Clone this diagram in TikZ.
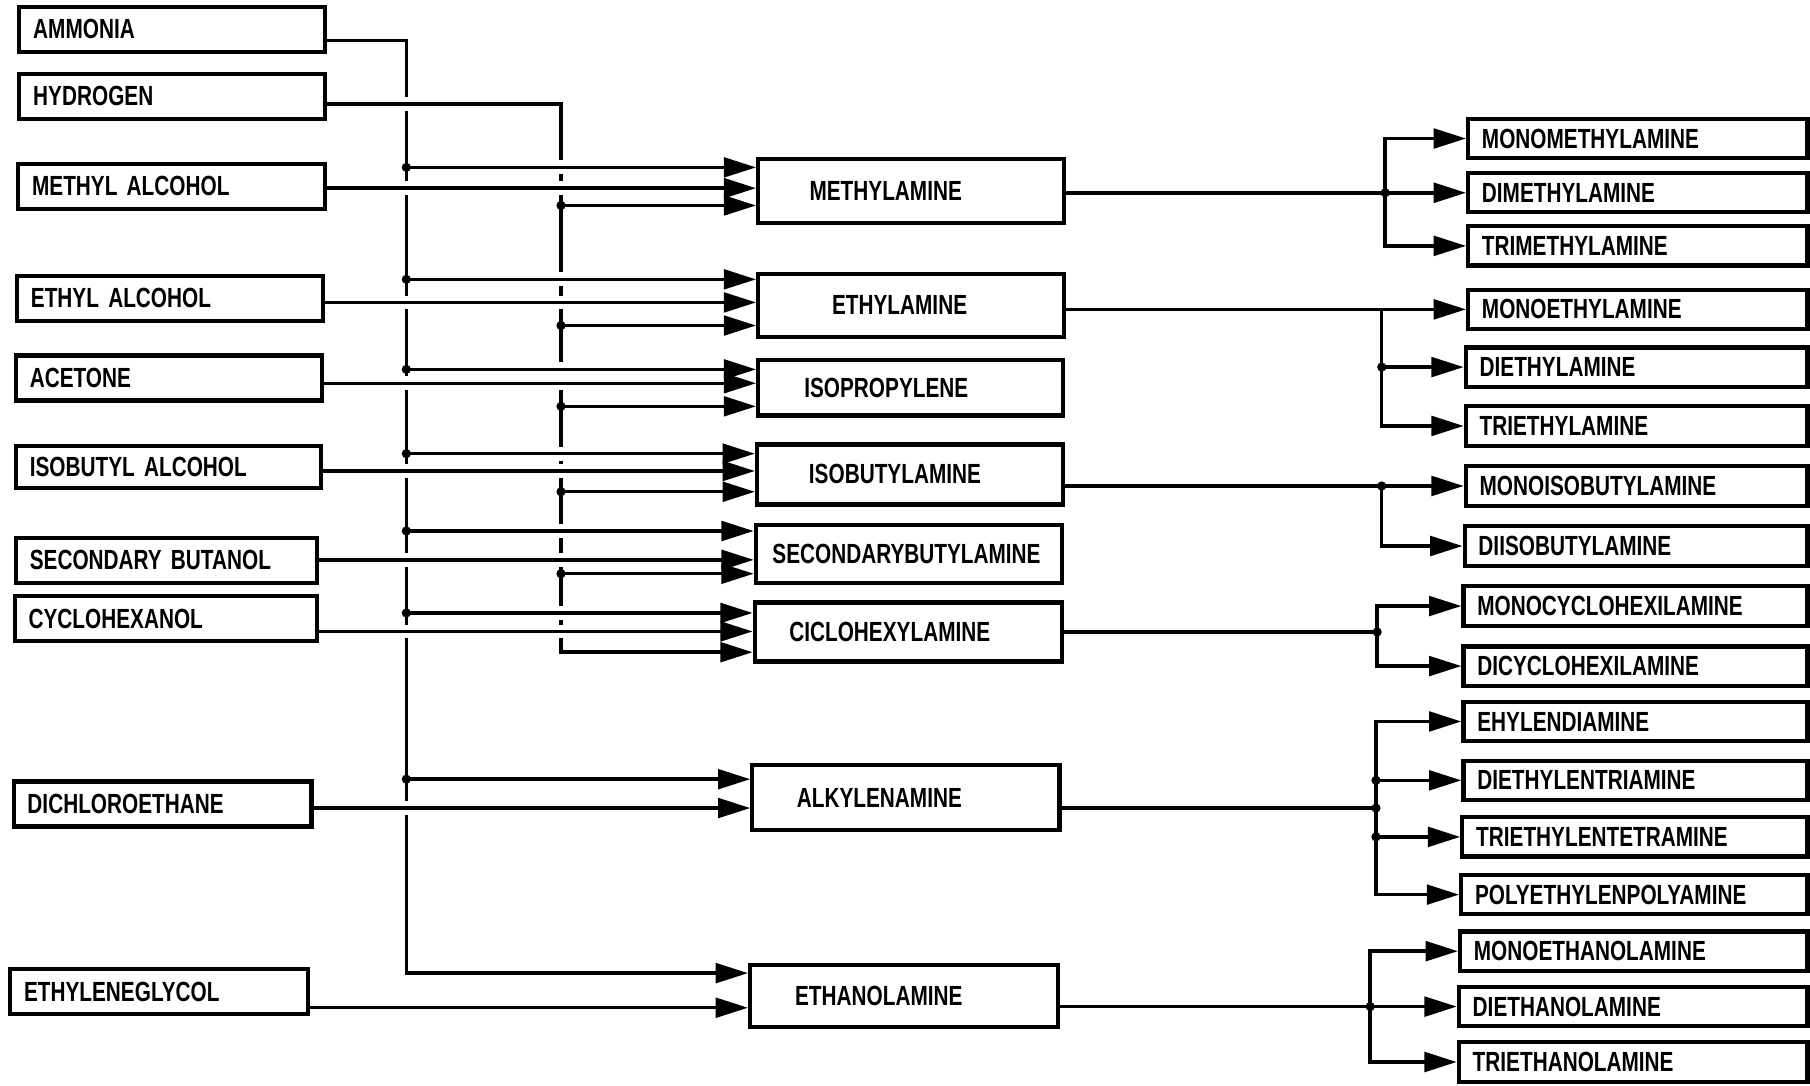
\documentclass[tikz,border=0pt]{standalone}
\usepackage{fontspec}
\setmainfont{Liberation Sans}[FakeStretch=0.75]
\usetikzlibrary{arrows.meta}
\newcommand\rpad[1]{\hspace*{#1pt}}
\begin{document}
\begin{tikzpicture}[x=1pt,y=-1pt,
 box/.style={draw, line width=3.6pt, inner ysep=0pt, font=\fontsize{24}{24}\selectfont\bfseries},
 lbox/.style={box, anchor=west, align=left, inner xsep=12pt, minimum height=39pt, text width=#1},
 mbox/.style={box, anchor=west, minimum height=#1},
 rbox/.style={box, anchor=west, align=left, inner xsep=12pt, minimum height=34pt, text width=#1},
 link/.style={line width=3pt},
 arr/.style={link, -{Triangle[length=28pt,width=17pt]}},
 gap/.style={draw=white, line width=12pt},
]
\useasboundingbox (0,0) rectangle (1568,940);

% ---------- left column ----------
\node[lbox=241pt] (ammonia)      at (15,25.5)  {AMMONIA};
\node[lbox=241pt] (hydrogen)     at (15,83.5)  {HYDROGEN};
\node[lbox=242pt] (methyl)       at (14,161.5) {METHYL ALCOHOL};
\node[lbox=241pt] (ethyl)        at (13,258.5) {ETHYL ALCOHOL};
\node[lbox=241pt] (acetone)      at (12,327.5) {ACETONE};
\node[lbox=240pt, minimum height=36pt] (isobutylalc) at (12,404.5) {ISOBUTYL ALCOHOL};
\node[lbox=237pt] (secbutanol)   at (12,485.5) {SECONDARY BUTANOL};
\node[lbox=238pt] (cyclohexanol) at (11,536)   {CYCLOHEXANOL};
\node[lbox=234pt] (dichloro)     at (10,696.5) {DICHLOROETHANE};
\node[lbox=234pt] (glycol)       at (7,859)    {ETHYLENEGLYCOL};

% ---------- middle column ----------
\node[mbox=55pt, minimum width=265pt] (methylamine)     at (655,165.5) {METHYLAMINE\rpad{44}};
\node[mbox=55pt, minimum width=265pt] (ethylamine)      at (655,264.5) {ETHYLAMINE\rpad{20}};
\node[mbox=48pt, minimum width=264pt] (isopropylene)    at (655,336)   {ISOPROPYLENE\rpad{42}};
\node[mbox=52pt, minimum width=265pt] (isobutylamine)   at (654,411)   {ISOBUTYLAMINE\rpad{26}};
\node[mbox=50pt, minimum width=265pt] (secbutylamine)   at (653,480)   {SECONDARYBUTYLAMINE\rpad{4}};
\node[mbox=51pt, minimum width=266pt] (ciclohexylamine) at (652,547.5) {CICLOHEXYLAMINE\rpad{32}};
\node[mbox=56pt, minimum width=266pt] (alkylenamine)    at (650,691)   {ALKYLENAMINE\rpad{46}};
\node[mbox=54pt, minimum width=267pt] (ethanolamine)    at (648,863)   {ETHANOLAMINE\rpad{44}};

% ---------- right column ----------
\node[rbox=270pt] (monomethyl)      at (1270,120) {MONOMETHYLAMINE};
\node[rbox=270pt] (dimethyl)        at (1270,167) {DIMETHYLAMINE};
\node[rbox=270pt] (trimethyl)       at (1270,213) {TRIMETHYLAMINE};
\node[rbox=270pt] (monoethyl)       at (1270,268) {MONOETHYLAMINE};
\node[rbox=272pt] (diethyl)         at (1268,318) {DIETHYLAMINE};
\node[rbox=272pt] (triethyl)        at (1268,369) {TRIETHYLAMINE};
\node[rbox=272pt] (monoisobutyl)    at (1268,421) {MONOISOBUTYLAMINE};
\node[rbox=273pt] (diisobutyl)      at (1267,473) {DIISOBUTYLAMINE};
\node[rbox=274pt] (monocyclo)       at (1266,525) {MONOCYCLOHEXILAMINE};
\node[rbox=274pt] (dicyclo)         at (1266,577) {DICYCLOHEXILAMINE};
\node[rbox=274pt] (ehylen)          at (1266,625) {EHYLENDIAMINE};
\node[rbox=274pt] (diethylentri)    at (1266,676) {DIETHYLENTRIAMINE};
\node[rbox=275pt] (triethylentetra) at (1265,725) {TRIETHYLENTETRAMINE};
\node[rbox=276pt] (polyeth)         at (1264,775) {POLYETHYLENPOLYAMINE};
\node[rbox=277pt] (monoethanol)     at (1263,824) {MONOETHANOLAMINE};
\node[rbox=278pt] (diethanol)       at (1262,872) {DIETHANOLAMINE};
\node[rbox=278pt] (triethanol)      at (1262,920) {TRIETHANOLAMINE};

% ---------- bus coordinates ----------
\coordinate (aTop) at (352,35);
\coordinate (aBot) at (352,843);
\coordinate (a1) at (352,145);
\coordinate (a2) at (352,242);
\coordinate (a3) at (352,320);
\coordinate (a4) at (352,393);
\coordinate (a5) at (352,460);
\coordinate (a6) at (352,531);
\coordinate (a7) at (352,675);
\coordinate (hTop) at (486,90);
\coordinate (hBot) at (486,565);
\coordinate (h1) at (486,178);
\coordinate (h2) at (486,282);
\coordinate (h3) at (486,352);
\coordinate (h4) at (486,426);
\coordinate (h5) at (486,497);
\coordinate (f1) at (0,163);
\coordinate (f2) at (0,262);
\coordinate (f3) at (0,332);
\coordinate (f4) at (0,408);
\coordinate (f5) at (0,485);
\coordinate (f6) at (0,547);
\coordinate (f7) at (0,700);
\coordinate (f8) at (0,873);

% ammonia bus
\draw[arr] (ammonia.east |- aTop) -- (aTop) -- (aBot) -- (ethanolamine.west |- aBot);
% hydrogen bus (crosses the ammonia bus on top)
\draw[gap, shorten <=20pt, shorten >=20pt] (hydrogen.east |- hTop) -- (hTop);
\draw[arr] (hydrogen.east |- hTop) -- (hTop) -- (hBot) -- (ciclohexylamine.west |- hBot);

% white gaps where horizontals cross the buses
\foreach \c/\b in {a1/methylamine,a2/ethylamine,a3/isopropylene,a4/isobutylamine,a5/secbutylamine,a6/ciclohexylamine,a7/alkylenamine}
  \draw[gap, shorten <=10pt, shorten >=40pt] (\c) -- (\b.west |- \c);
\foreach \c/\s/\b in {f1/methyl/methylamine,f2/ethyl/ethylamine,f3/acetone/isopropylene,f4/isobutylalc/isobutylamine,f5/secbutanol/secbutylamine,f6/cyclohexanol/ciclohexylamine,f7/dichloro/alkylenamine,f8/glycol/ethanolamine}
  \draw[gap, shorten <=20pt, shorten >=40pt] (\s.east |- \c) -- (\b.west |- \c);

% ammonia branches
\foreach \c/\b in {a1/methylamine,a2/ethylamine,a3/isopropylene,a4/isobutylamine,a5/secbutylamine,a6/ciclohexylamine,a7/alkylenamine}
  \draw[arr] (\c) -- (\b.west |- \c);
% hydrogen branches
\foreach \c/\b in {h1/methylamine,h2/ethylamine,h3/isopropylene,h4/isobutylamine,h5/secbutylamine}
  \draw[arr] (\c) -- (\b.west |- \c);
% feeds
\foreach \c/\s/\b in {f1/methyl/methylamine,f2/ethyl/ethylamine,f3/acetone/isopropylene,f4/isobutylalc/isobutylamine,f5/secbutanol/secbutylamine,f6/cyclohexanol/ciclohexylamine,f7/dichloro/alkylenamine,f8/glycol/ethanolamine}
  \draw[arr] (\s.east |- \c) -- (\b.west |- \c);
% junction dots
\foreach \c in {a1,a2,a3,a4,a5,a6,a7,h1,h2,h3,h4,h5}
  \fill (\c) circle (4pt);

% ---------- products ----------
\coordinate (mj) at (1200,167);
\draw[arr] (methylamine.east |- mj) -- (dimethyl.west);
\draw[arr] (mj) |- (monomethyl.west);
\draw[arr] (mj) |- (trimethyl.west);
\fill (mj) circle (4pt);

\coordinate (ej) at (1197,268);
\draw[arr] (ethylamine.east |- ej) -- (monoethyl.west);
\draw[arr] (ej) |- (diethyl.west);
\draw[arr] (ej) |- (triethyl.west);
\fill (ej |- diethyl.west) circle (4pt);

\coordinate (ij) at (1197,421);
\draw[arr] (isobutylamine.east |- ij) -- (monoisobutyl.west);
\draw[arr] (ij) |- (diisobutyl.west);
\fill (ij) circle (4pt);

\coordinate (cj) at (1193,547.5);
\draw[link] (ciclohexylamine.east |- cj) -- (cj);
\draw[arr] (cj) |- (monocyclo.west);
\draw[arr] (cj) |- (dicyclo.west);
\fill (cj) circle (4pt);

\coordinate (kj) at (1192,700);
\draw[link] (alkylenamine.east |- kj) -- (kj);
\draw[arr] (kj) |- (ehylen.west);
\draw[arr] (kj) |- (diethylentri.west);
\draw[arr] (kj) |- (triethylentetra.west);
\draw[arr] (kj) |- (polyeth.west);
\fill (kj) circle (4pt);
\fill (kj |- diethylentri.west) circle (4pt);
\fill (kj |- triethylentetra.west) circle (4pt);

\coordinate (tj) at (1187,872);
\draw[arr] (ethanolamine.east |- tj) -- (diethanol.west);
\draw[arr] (tj) |- (monoethanol.west);
\draw[arr] (tj) |- (triethanol.west);
\fill (tj) circle (4pt);
\end{tikzpicture}
\end{document}
